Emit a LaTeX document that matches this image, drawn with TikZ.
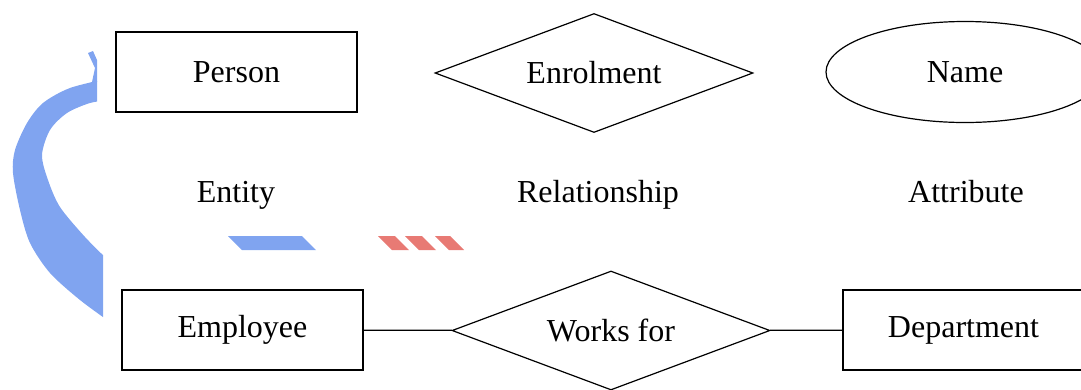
\documentclass[tikz,border=0pt]{standalone}
\usepackage{fontspec}
\setmainfont{Liberation Serif}
\usetikzlibrary{shapes.geometric,positioning}
\definecolor{markblue}{RGB}{128,164,240}
\definecolor{markred}{RGB}{232,122,116}

\begin{document}
\begin{tikzpicture}[
    x=1pt, y=-1pt,
    font=\fontsize{32}{38}\selectfont, line width=1.2pt,
    entity/.style={draw,rectangle,minimum width=241pt,minimum height=80pt,inner sep=0pt},
    relation/.style={draw,diamond,aspect=2.65,minimum width=318pt,minimum height=119pt,inner sep=0pt},
    attribute/.style={draw,ellipse,minimum width=278pt,minimum height=101pt,inner sep=0pt},
    caption/.style={inner sep=0pt,anchor=base},
    link/.style={line width=1.2pt}
]
\path[use as bounding box] (0,0) rectangle (1081,389);

% leftover marks of a logo behind the diagram
\begin{scope}
\clip (0,0) -- (97,0) -- (97,110) -- (103,110) -- (103,389) -- (0,389) -- cycle;
\fill[markblue] plot[smooth] coordinates {(110,78) (70,88) (43,103) (27,123) (15,150) (13,173) (20,210) (30,243) (50,273) (80,300) (110,322)}
    -- plot[smooth] coordinates {(110,262) (85,237) (60,207) (48,180) (42,155) (50,130) (67,113) (90,103) (110,100)} -- cycle;
\fill[markblue] (88,53) -- (93,51) -- (97,60) -- (97,82) -- (92,82) -- (95,68) -- cycle;
\end{scope}
\fill[markblue] (228,236) -- (302,236) -- (316,250) -- (242,250) -- cycle;
\foreach \a/\b in {378/395,405/422,435/450}
    \fill[markred] (\a,236) -- (\b,236) -- (\b+14,250) -- (\a+14,250) -- cycle;

% the three kinds of symbol
\node[entity] (person) at (236.5,72) {Person};
\node[relation] (enrol) at (594,73) {Enrolment};
\node[attribute] (name) at (965,72) {Name};
\foreach \n/\x/\t in {ent/236/Entity,rel/598/Relationship,att/966/Attribute}
    \node[caption] (\n) at (\x,202) {\t};

% example
\node[entity] (employee) at (242.5,330) {Employee};
\node[relation] (works) at (611,330.5) {Works for};
\node[entity] (dept) at (963.5,330) {Department};
\draw[link] (employee) -- (works);
\draw[link] (works) -- (dept);
\end{tikzpicture}
\end{document}
